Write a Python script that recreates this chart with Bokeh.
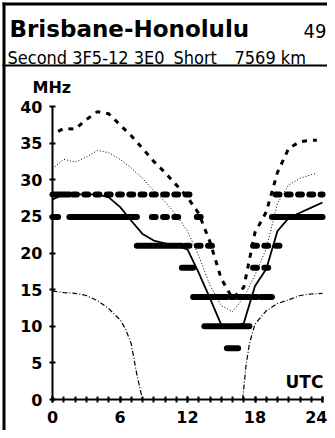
from bokeh.plotting import figure
from bokeh.models import Range1d, FixedTicker, Label, BoxAnnotation
from bokeh.embed import file_html
from bokeh.resources import INLINE

# ---------------- data ----------------
title_text = "Brisbane-Honolulu"
page_no = "49"
sub_left = "Second 3F5-12 3E0"
sub_mid = "Short"
sub_right = "7569 km"

x_ticks = [0, 6, 12, 18, 24]
x_minor = list(range(25))
y_ticks = [0, 5, 10, 15, 20, 25, 30, 35, 40]

# upper decile MUF (heavy dashed)
hi_hours = [0.5, 1, 2, 3, 4, 5, 6, 7, 8, 9, 10, 11, 12, 13, 14, 15, 16, 17, 18, 19, 20, 21, 22, 23, 23.5]
hi_mhz = [36.6, 37.0, 36.9, 38.2, 39.3, 39.0, 37.5, 36.0, 34.3, 32.5, 31.0, 29.3, 27.6, 25.4, 21.5,
          16.5, 13.8, 15.3, 22.8, 25.6, 31.0, 34.3, 35.2, 35.4, 35.4]

# median MUF (fine dotted)
med_hours = [0, 1, 2, 3, 4, 5, 6, 7, 8, 9, 10, 11, 12, 13, 14, 15, 16, 17, 18, 19, 20, 21, 22, 23, 23.5]
med_mhz = [31.5, 32.8, 32.4, 33.1, 34.0, 33.7, 32.8, 31.6, 30.2, 28.5, 27.0, 25.2, 23.0, 19.6, 15.6,
           12.8, 12.0, 13.9, 17.0, 20.6, 26.8, 29.3, 30.2, 30.7, 30.9]

# working frequency (solid)
fot_hours = list(range(25))
fot_mhz = [27.3, 28.0, 28.0, 28.0, 28.0, 27.6, 26.3, 24.4, 22.6, 21.7, 21.3, 21.0, 20.5, 17.3, 13.8,
           10.2, 10.0, 10.4, 15.5, 17.8, 23.0, 24.8, 25.5, 26.2, 26.9]

# lowest usable frequency (dash-dot), nan = break
luf_hours = [0, 1, 2, 3, 4, 5, 6, 6.5, 7, 7.5, 8, 12.5, 16.9, 17.2, 17.5, 18, 19, 20, 21, 22, 23, 24]
luf_mhz = [14.8, 14.6, 14.5, 14.2, 13.5, 12.4, 10.9, 9.6, 7.6, 3.4, 0.0, float("nan"), 0.0, 4.6, 7.6,
           10.3, 12.1, 13.1, 13.6, 14.2, 14.4, 14.5]

# amateur band openings per hour 0..24: 2 = good (solid bar), 1 = fair (broken bar), 0 = closed
bands_mhz = [28.0, 24.9, 21.0, 18.0, 14.0, 10.0, 7.0]
status_28 = [2, 2, 1, 1, 1, 1, 1, 1, 1, 1, 1, 1, 1, 0, 0, 0, 0, 0, 0, 0, 1, 1, 1, 1, 1]
status_25 = [2, 0, 2, 2, 2, 2, 2, 2, 0, 1, 1, 1, 0, 1, 0, 0, 0, 0, 0, 0, 2, 2, 2, 2, 2]
status_21 = [0, 0, 0, 0, 0, 0, 0, 0, 2, 2, 2, 2, 1, 1, 1, 0, 0, 0, 1, 1, 1, 0, 0, 0, 0]
status_18 = [0, 0, 0, 0, 0, 0, 0, 0, 0, 0, 0, 0, 2, 0, 0, 0, 0, 0, 1, 1, 0, 0, 0, 0, 0]
status_14 = [0, 0, 0, 0, 0, 0, 0, 0, 0, 0, 0, 0, 0, 2, 2, 2, 1, 2, 1, 2, 0, 0, 0, 0, 0]
status_10 = [0, 0, 0, 0, 0, 0, 0, 0, 0, 0, 0, 0, 0, 0, 2, 2, 2, 2, 0, 0, 0, 0, 0, 0, 0]
status_7 = [0, 0, 0, 0, 0, 0, 0, 0, 0, 0, 0, 0, 0, 0, 0, 0, 2, 0, 0, 0, 0, 0, 0, 0, 0]
band_status = [status_28, status_25, status_21, status_18, status_14, status_10, status_7]

# ---------------- layout helpers (canvas pixels -> data) ----------------
W, H = 327, 430
X0_PX, X_PER_H = 52.0, 11.25
Y0_PX, Y_PER_MHZ = 399.0, 7.325


def px_x(px):
    return (px - X0_PX) / X_PER_H


def px_y(py):
    return (Y0_PX - py) / Y_PER_MHZ


# the frame covers the whole canvas
p = figure(width=W, height=H,
           x_range=Range1d(px_x(0), px_x(W)), y_range=Range1d(px_y(H), px_y(0)),
           output_backend="svg", toolbar_location=None)
p.min_border = 0
p.min_border_left = 0
p.min_border_right = 0
p.min_border_top = 0
p.min_border_bottom = 0
p.outline_line_color = None
p.grid.visible = False
p.background_fill_color = "white"
p.border_fill_color = "white"

for ax in (p.xaxis[0], p.yaxis[0]):
    ax.fixed_location = 0
    ax.axis_line_width = 2
    ax.axis_line_color = "black"
    ax.major_tick_line_width = 2
    ax.major_tick_in = 3
    ax.major_tick_out = 3
    ax.minor_tick_line_width = 2
    ax.minor_tick_in = 3
    ax.minor_tick_out = 3
    ax.major_label_text_font = "DejaVu Sans"
    ax.major_label_text_font_style = "bold"
    ax.major_label_text_font_size = "16px"
    ax.major_label_text_color = "black"

p.xaxis.bounds = (x_ticks[0], x_ticks[-1])
p.yaxis.bounds = (y_ticks[0], y_ticks[-1])
p.xaxis.ticker = FixedTicker(ticks=x_ticks, minor_ticks=x_minor)
p.yaxis.ticker = FixedTicker(ticks=y_ticks)
p.yaxis.minor_tick_line_color = None
p.xaxis.major_label_standoff = 8
p.yaxis.major_label_standoff = 7

# band bars (clipped to the 0..24 h axis)
lo_h, hi_h = x_ticks[0], x_ticks[-1]
x0s, x1s, ys = [], [], []
d0s, d1s, dys = [], [], []
for f, st in zip(bands_mhz, band_status):
    h = 0
    while h < len(st):
        if st[h] == 2:
            s = h
            while h + 1 < len(st) and st[h + 1] == 2:
                h += 1
            x0s.append(max(x_minor[s] - 0.5, lo_h))
            x1s.append(min(x_minor[h] + 0.5, hi_h))
            ys.append(f)
        elif st[h] == 1:
            d0s.append(max(x_minor[h] - 0.17, lo_h))
            d1s.append(min(x_minor[h] + 0.17, hi_h))
            dys.append(f)
        h += 1

p.segment(x0=x0s, y0=ys, x1=x1s, y1=ys, line_width=6, line_color="black", line_cap="round")
p.segment(x0=d0s, y0=dys, x1=d1s, y1=dys, line_width=6, line_color="black", line_cap="round")

p.line(hi_hours, hi_mhz, line_width=3, line_color="black", line_dash="5 6")
p.line(med_hours, med_mhz, line_width=1, line_color="black", line_dash="1 2")
p.line(fot_hours, fot_mhz, line_width=1.8, line_color="black")
p.line(luf_hours, luf_mhz, line_width=1.2, line_color="black", line_dash="5 2 1 2")


# texts
def add_label(txt, x, y, font, size, style="normal", align="left"):
    p.add_layout(Label(x=x, y=y, text=txt, text_font=font, text_font_size=size,
                       text_font_style=style, text_color="black", text_align=align,
                       text_baseline="alphabetic"))


add_label(title_text, px_x(9), px_y(28), "DejaVu Sans", "23px", "bold")
add_label(page_no, px_x(326), px_y(30), "DejaVu Sans Condensed", "20px", align="right")
add_label(sub_left, px_x(7), px_y(57), "DejaVu Sans Condensed", "18px")
add_label(sub_mid, px_x(173), px_y(57), "DejaVu Sans Condensed", "18px")
add_label(sub_right, px_x(234), px_y(57), "DejaVu Sans Condensed", "18px")
add_label("MHz", px_x(32), px_y(87), "DejaVu Sans", "16px", "bold")
add_label("UTC", px_x(285), px_y(381), "DejaVu Sans", "17px", "bold")

# frame lines of the sheet
p.add_layout(BoxAnnotation(left=px_x(2), right=px_x(W), top=px_y(2), bottom=px_y(5),
                           fill_color="black", fill_alpha=1, line_color=None))
p.add_layout(BoxAnnotation(left=px_x(2), right=px_x(W), top=px_y(64), bottom=px_y(66),
                           fill_color="black", fill_alpha=1, line_color=None))
p.add_layout(BoxAnnotation(left=px_x(2), right=px_x(5), top=px_y(2), bottom=px_y(H),
                           fill_color="black", fill_alpha=1, line_color=None))

open("out.html", "w").write(file_html(p, INLINE))
